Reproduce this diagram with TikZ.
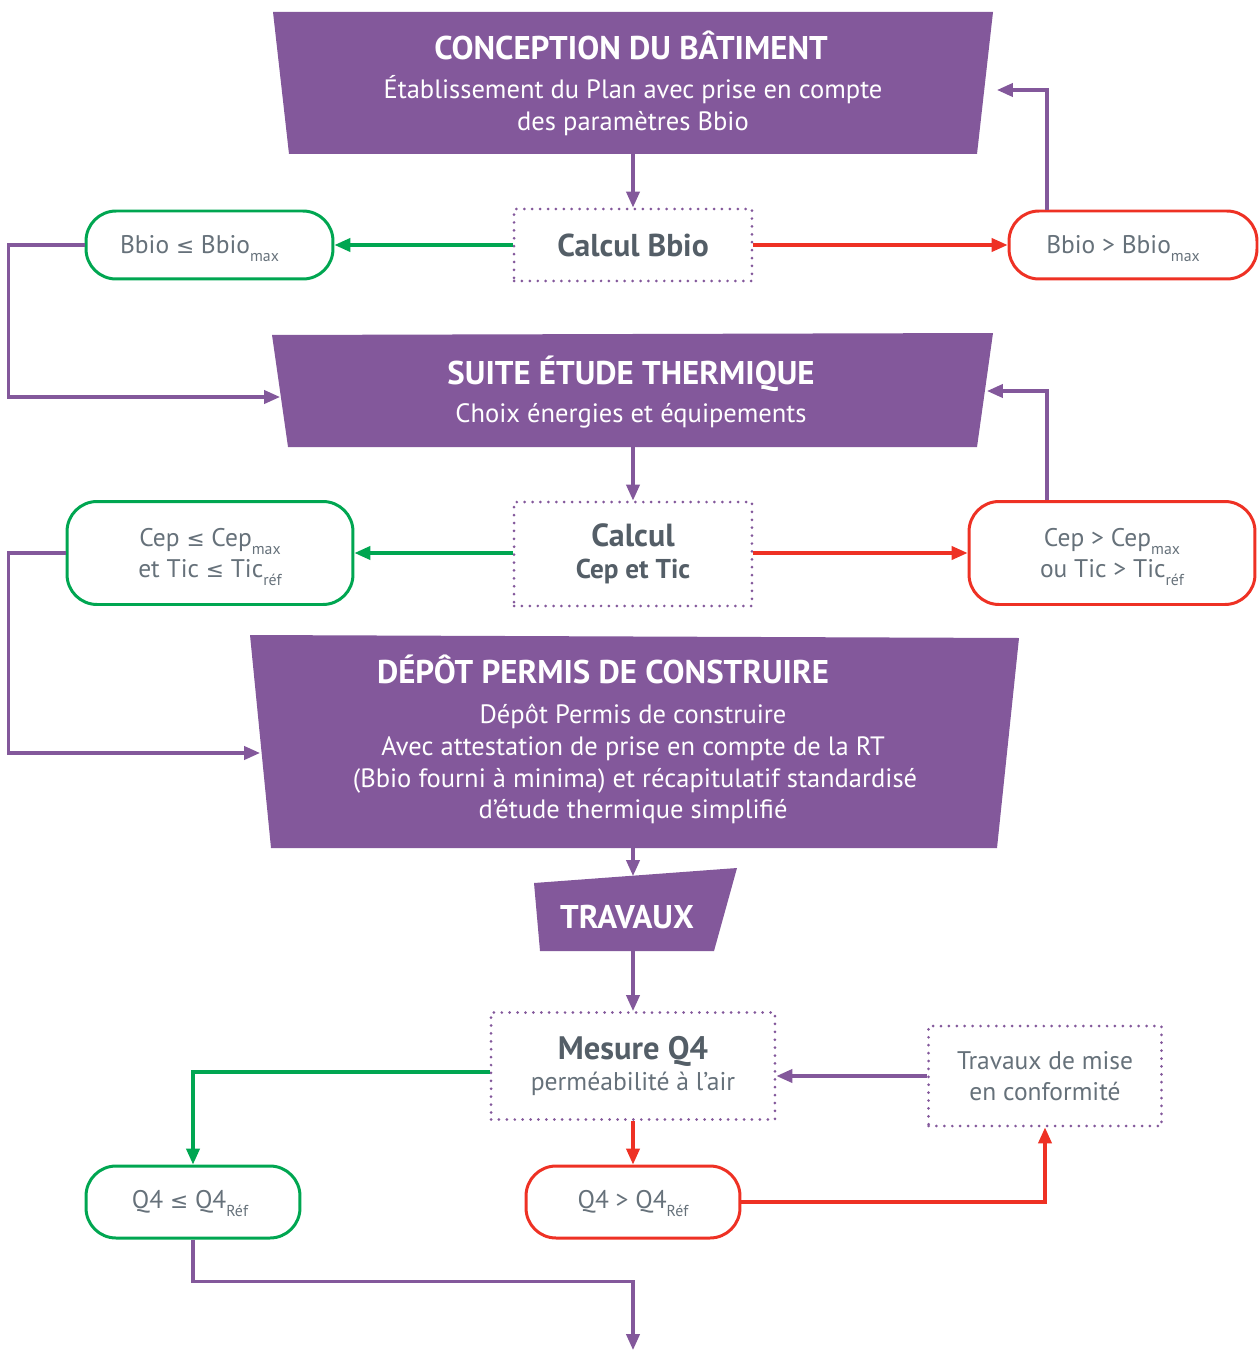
\documentclass[tikz,border=0pt]{standalone}
\usepackage{fontspec}
\setmainfont{PT Sans}
\newfontfamily\symfont{DejaVu Sans}[Scale=0.85]
\usetikzlibrary{arrows.meta}
\definecolor{rtpurple}{HTML}{83589B}
\definecolor{rtgreen}{HTML}{00A651}
\definecolor{rtred}{HTML}{EE3124}
\definecolor{rtslate}{HTML}{545E67}
\definecolor{rtgrey}{HTML}{66717A}
% lowered index that does not push the line apart
\newcommand{\lowidx}[1]{\raisebox{-4.5pt}[0pt][0pt]{\fontsize{9}{9}\selectfont #1}}
\newcommand{\lessq}{{\symfont ≤}}

\begin{document}
\begin{tikzpicture}[
  x=0.02cm,
  y=-0.02cm,
  every node/.style={inner sep=0pt},
  stage/.style={fill=rtpurple},
  stagetitle/.style={font=\fontsize{18.7}{22}\selectfont\bfseries, white,
               anchor=base},
  stagetext/.style={font=\fontsize{15.1}{18}\selectfont, white, anchor=base},
  calcbox/.style={draw=rtpurple, line width=1.7pt, line cap=round,
               dash pattern=on 0pt off 4.5pt, align=center, text=rtslate},
  okbox/.style={draw=rtgreen, line width=1.7pt, rounded corners=0.6cm,
               align=center, text=rtgrey, font=\fontsize{14.5}{18}\selectfont},
  kobox/.style={okbox, draw=rtred},
  flow/.style={rtpurple, line width=1.8pt,
               -{Triangle[length=9pt, width=7.5pt]}},
  okflow/.style={flow, rtgreen},
  koflow/.style={flow, rtred}
]
  \useasboundingbox (0,0) rectangle (1259,1351);

  % ---- stage 1: conception -------------------------------------------
  \fill[stage] (273,12) -- (993,12) -- (977,154) -- (289,154) -- cycle;
  \node[stagetitle] (conc) at (631,60) {CONCEPTION DU BÂTIMENT};
  \node[stagetext] (conc-l1) at (633,99)
    {Établissement du Plan avec prise en compte};
  \node[stagetext] (conc-l2) at (633,131) {des paramètres Bbio};
  \coordinate (conc-s) at (633,154);
  \coordinate (conc-back) at (997,90);

  \node[calcbox, minimum width=4.76cm, minimum height=1.44cm,
        font=\fontsize{18}{20}\selectfont\bfseries] (calcbbio) at (633,245)
    {Calcul Bbio};
  \node[okbox, minimum width=4.94cm, minimum height=1.36cm] (bbiook)
    at (209.5,245) {Bbio \lessq{} Bbio\lowidx{max}\hspace*{0.4cm}};
  \node[kobox, minimum width=4.96cm, minimum height=1.36cm] (bbioko)
    at (1133,245) {Bbio > Bbio\lowidx{max}\hspace*{0.4cm}};

  % ---- stage 2: thermal study ----------------------------------------
  \fill[stage] (272,335) -- (993,333) -- (977,447) -- (288,447) -- cycle;
  \node[stagetitle] (suite) at (631,384) {SUITE ÉTUDE THERMIQUE};
  \node[stagetext] (suite-l1) at (631,422) {Choix énergies et équipements};
  \coordinate (suite-in) at (280,397);
  \coordinate (suite-s) at (633,447);
  \coordinate (suite-back) at (987,391);

  \node[calcbox, minimum width=4.76cm, minimum height=2.08cm,
        font=\fontsize{15.5}{18}\selectfont\bfseries] (calccep) at (633,554)
    {{\fontsize{18.2}{18}\selectfont Calcul}\\Cep et Tic};
  \node[okbox, minimum width=5.72cm, minimum height=2.06cm] (cepok)
    at (210,553) {Cep \lessq{} Cep\lowidx{max}\\et Tic \lessq{} Tic\lowidx{réf}};
  \node[kobox, minimum width=5.72cm, minimum height=2.06cm] (cepko)
    at (1112,553) {Cep > Cep\lowidx{max}\\ou Tic > Tic\lowidx{réf}};

  % ---- stage 3: building permit --------------------------------------
  \fill[stage] (250,635) -- (1019,638) -- (997,848) -- (271,848) -- cycle;
  \node[stagetitle] (depot) at (603,683) {DÉPÔT PERMIS DE CONSTRUIRE};
  \node[stagetext] (depot-l1) at (633,723) {Dépôt Permis de construire};
  \node[stagetext] (depot-l2) at (633,755)
    {Avec attestation de prise en compte de la RT};
  \node[stagetext] (depot-l3) at (635,787)
    {(Bbio fourni à minima) et récapitulatif standardisé};
  \node[stagetext] (depot-l4) at (633,818) {d’étude thermique simplifié};
  \coordinate (depot-in) at (260,753);
  \coordinate (depot-s) at (633,848);

  % ---- stage 4: works and air tightness ------------------------------
  \fill[stage] (534,883) -- (737,868) -- (714,951) -- (540,951) -- cycle;
  \node[stagetitle] (trav) at (627,928) {TRAVAUX};
  \coordinate (trav-n) at (633,876);
  \coordinate (trav-s) at (633,951);

  \node[calcbox, minimum width=5.68cm, minimum height=2.14cm,
        font=\fontsize{14.6}{18}\selectfont] (mesure) at (633,1066)
    {{\fontsize{18.5}{18}\selectfont\bfseries Mesure Q4}\\
     {\color{rtgrey}perméabilité à l’air}};
  \node[calcbox, minimum width=4.66cm, minimum height=2.0cm, text=rtgrey,
        font=\fontsize{14.5}{18}\selectfont] (mise) at (1045,1076)
    {Travaux de mise\\en conformité};
  \node[okbox, minimum width=4.28cm, minimum height=1.44cm] (q4ok)
    at (193,1202) {Q4 \lessq{} Q4\lowidx{Réf}\hspace*{0.12cm}};
  \node[kobox, minimum width=4.28cm, minimum height=1.44cm] (q4ko)
    at (633,1202) {Q4 > Q4\lowidx{Réf}};
  \coordinate (q4-out) at (633,1350);

  % ---- connectors ----------------------------------------------------
  \draw[flow] (conc-s) -- (calcbbio);
  \draw[okflow] (calcbbio) -- (bbiook);
  \draw[koflow] (calcbbio) -- (bbioko);
  \draw[flow] (1047,0 |- bbioko.north) |- (conc-back);
  \draw[flow] (bbiook.west) -- ++(-76,0) |- (suite-in);

  \draw[flow] (suite-s) -- (calccep);
  \draw[okflow] (calccep.west |- cepok) -- (cepok);
  \draw[koflow] (calccep.east |- cepko) -- (cepko);
  \draw[flow] (1047,0 |- cepko.north) |- (suite-back);
  \draw[flow] (cepok.west) -- ++(-57,0) |- (depot-in);

  \draw[flow] (depot-s) -- (trav-n);
  \draw[flow] (trav-s) -- (mesure);
  \draw[okflow] (mesure.west |- 0,1072) -| (q4ok);
  \draw[koflow] (mesure) -- (q4ko);
  \draw[koflow] (q4ko.east) -| (mise);
  \draw[flow] (mise.west |- 0,1076) -- (mesure.east |- 0,1076);
  \draw[flow] (q4ok.south) -- ++(0,42) -| (q4-out);
\end{tikzpicture}
\end{document}
